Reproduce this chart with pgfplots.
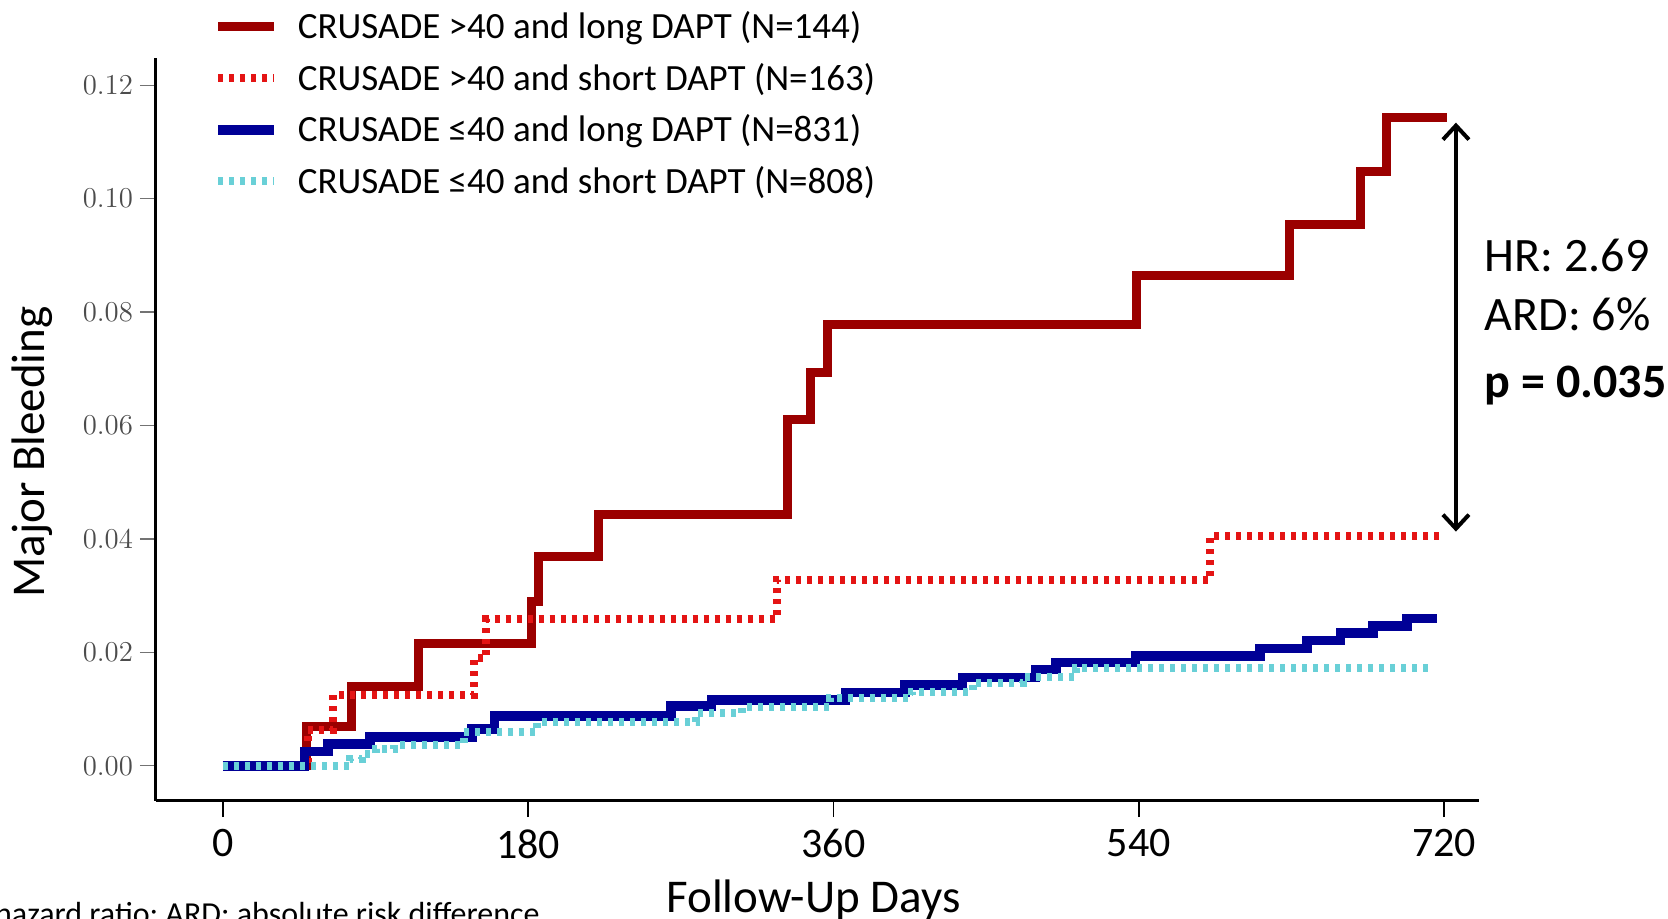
\documentclass[border=0pt]{standalone}
\usepackage{pgfplots}
\pgfplotsset{compat=1.18}
\usepackage{fontspec}
\setmainfont{Carlito}
\usetikzlibrary{arrows.meta}

\definecolor{longhi}{RGB}{155,0,0}
\definecolor{shorthi}{RGB}{228,20,20}
\definecolor{longlo}{RGB}{0,0,150}
\definecolor{shortlo}{RGB}{105,208,215}

\begin{document}
\begin{tikzpicture}
\begin{axis}[
    scale only axis,
    width=661.5pt, height=371.5pt,
    xmin=-39.5, xmax=740.6,
    ymin=-0.0062, ymax=0.1248,
    axis x line*=bottom, axis y line*=left,
    axis line style={line width=1.5pt, -},
    tick align=outside,
    major tick length=8pt,
    xtick={0,180,360,540,720},
    xticklabels={0,180,360,540,720},
    ytick={0,0.02,0.04,0.06,0.08,0.10,0.12},
    xtick style={black, line width=0.9pt},
    ytick style={black!55, line width=0.6pt},
    xticklabel style={font=\fontsize{21}{25}\selectfont, yshift=-2.7pt},
    yticklabel style={font=\fontsize{15.5}{18}\selectfont, text=black!70,
        /pgf/number format/.cd, fixed, fixed zerofill, precision=2},
    xlabel={Follow-Up Days},
    xlabel style={at={(axis description cs:0.497,-0.1507)}, anchor=base,
        font=\fontsize{23.5}{28}\selectfont},
    ylabel={Major Bleeding},
    ylabel style={at={(axis description cs:-0.0937,0.4697)}, anchor=center,
        font=\fontsize{23.5}{28}\selectfont},
    const plot,
    clip=false,
    legend cell align=left,
    legend image code/.code={\draw[#1] (0pt,0pt) -- (28pt,0pt); \path (35.5pt,0pt);},
    legend style={at={(axis description cs:0.043,1.068)}, anchor=north west,
        draw=none, fill=none, inner sep=0pt, row sep=6.7pt,
        font=\fontsize{18.5}{22}\selectfont},
]
% CRUSADE >40, long DAPT
\addplot[longhi, line width=4.5pt] coordinates {
    (0,0) (49,0.0069) (76,0.0140) (115.5,0.0216) (182,0.0290) (186,0.0369)
    (221.6,0.0443) (332.7,0.0610) (346.5,0.0694) (356.5,0.0778) (538.6,0.0865)
    (629,0.0955) (670.5,0.1048) (686,0.1143) (722,0.1143)
};
\addlegendentry{CRUSADE >40 and long DAPT (N=144)}
% CRUSADE >40, short DAPT
\addplot[shorthi, line width=4pt, dash pattern=on 2.5pt off 3pt] coordinates {
    (0,0) (50,0.0063) (65,0.0125) (148,0.0190) (155,0.0258) (326.4,0.0328)
    (582,0.0405) (719,0.0405)
};
\addlegendentry{CRUSADE >40 and short DAPT (N=163)}
% CRUSADE <=40, long DAPT
\addplot[longlo, line width=4.8pt] coordinates {
    (0,0) (48,0.0025) (62,0.0039) (86.7,0.0051) (147,0.0065) (160,0.0088)
    (264,0.0105) (288,0.0116) (367,0.0129) (402,0.0143) (436,0.0156)
    (479,0.0170) (491,0.0182) (538,0.0194) (611.5,0.0207) (639,0.0221)
    (659,0.0234) (678,0.0247) (698,0.0260) (716,0.0260)
};
\addlegendentry{CRUSADE ≤40 and long DAPT (N=831)}
% CRUSADE <=40, short DAPT
\addplot[shortlo, line width=4pt, dash pattern=on 2.5pt off 3pt] coordinates {
    (0,0) (75,0.0012) (82,0.0021) (90,0.0030) (101,0.0037) (142,0.0060)
    (185,0.0078) (279,0.0093) (306,0.0104) (358,0.0120) (406,0.0130)
    (442,0.0146) (472,0.0157) (503,0.0172) (714,0.0172)
};
\addlegendentry{CRUSADE ≤40 and short DAPT (N=808)}

\draw[line width=2pt, {Straight Barb[length=7pt,width=13pt]}-{Straight Barb[length=7pt,width=13pt]}]
    (axis cs:727,0.1134) -- (axis cs:727,0.0413);
\node[anchor=base west, inner sep=0pt, font=\fontsize{24}{28}\selectfont] at (axis cs:743.8,0.0872) {HR: 2.69};
\node[anchor=base west, inner sep=0pt, font=\fontsize{24}{28}\selectfont] at (axis cs:743.8,0.0768) {ARD: 6\%};
\node[anchor=base west, inner sep=0pt, font=\fontsize{24}{28}\selectfont\bfseries] at (axis cs:743.8,0.0650) {p = 0.035};
\end{axis}
\node[anchor=base east, inner sep=0pt, font=\fontsize{16}{19}\selectfont] at (192pt,-61.5pt) {HR: hazard ratio; ARD: absolute risk difference};
\pgfresetboundingbox
\path[use as bounding box] (-78pt,-59pt) rectangle (756pt,400.5pt);
\end{tikzpicture}
\end{document}
